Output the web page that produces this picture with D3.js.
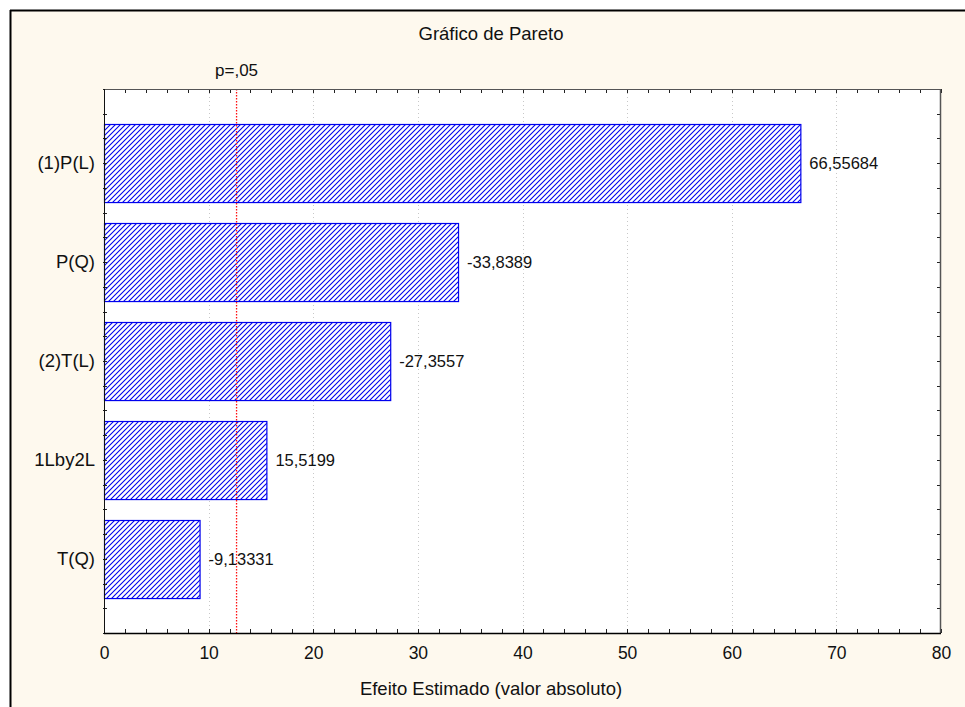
<!DOCTYPE html>
<html>
<head>
<meta charset="utf-8">
<script src="https://cdn.jsdelivr.net/npm/d3@7/dist/d3.min.js"></script>
<style>
  html, body { margin: 0; padding: 0; background: #ffffff; }
  svg { display: block; font-family: "Liberation Sans", Arial, sans-serif; }
</style>
</head>
<body>
<svg id="chart" width="965" height="707"></svg>
<script>
// ---- data ----
const categories = ["(1)P(L)", "P(Q)", "(2)T(L)", "1Lby2L", "T(Q)"];
const effects = [66.55684, -33.8389, -27.3557, 15.5199, -9.13331];
const xTicks = [0, 10, 20, 30, 40, 50, 60, 70, 80];
const pCritical = 12.67;
const pLabel = "p=,05";
const title = "Gráfico de Pareto";
const xTitle = "Efeito Estimado (valor absoluto)";

// ---- layout ----
const W = 965, H = 707;
const plot = { left: 104, right: 941, top: 89, bottom: 633 };
const svg = d3.select("#chart");

// page background, frame
svg.append("rect").attr("x", 0).attr("y", 0).attr("width", W).attr("height", H).attr("fill", "#ffffff");
svg.append("rect").attr("x", 11).attr("y", 11).attr("width", W - 11).attr("height", H - 11).attr("fill", "#fef9ee");
svg.append("line").attr("x1", 10).attr("x2", W).attr("y1", 10.5).attr("y2", 10.5)
  .attr("stroke", "#000").attr("stroke-width", 2);
svg.append("line").attr("x1", 10.5).attr("x2", 10.5).attr("y1", 10).attr("y2", H)
  .attr("stroke", "#000").attr("stroke-width", 2);

// hatch pattern
const defs = svg.append("defs");
const pat = defs.append("pattern").attr("id", "hatch")
  .attr("patternUnits", "userSpaceOnUse").attr("width", 5).attr("height", 5);
pat.append("rect").attr("width", 5).attr("height", 5).attr("fill", "#ffffff");
pat.append("path").attr("d", "M-1,1 L1,-1 M0,5 L5,0 M4,6 L6,4")
  .attr("stroke", "#0000ee").attr("stroke-width", 1.1);

// scales
const x = d3.scaleLinear().domain([0, 80]).range([plot.left, plot.right]);
const y = d3.scaleBand().domain(categories).range([plot.top, plot.bottom])
  .paddingInner(0.211).paddingOuter(0.355);
const yMinor = d3.scaleLinear().domain([0, 5.5]).range([plot.top, plot.bottom]);

// plot background
svg.append("rect").attr("x", plot.left).attr("y", plot.top)
  .attr("width", plot.right - plot.left).attr("height", plot.bottom - plot.top)
  .attr("fill", "#ffffff");

// gridlines
svg.append("g").selectAll("line").data(xTicks.filter(t => t > 0 && t < 80)).join("line")
  .attr("x1", d => Math.round(x(d)) + 0.5).attr("x2", d => Math.round(x(d)) + 0.5)
  .attr("y1", plot.top).attr("y2", plot.bottom)
  .attr("stroke", "#c8c8c8").attr("stroke-width", 1).attr("stroke-dasharray", "1,3");

// bars
const data = categories.map((c, i) => ({ cat: c, v: effects[i] }));
svg.append("g").selectAll("rect").data(data).join("rect")
  .attr("x", x(0) + 0.5)
  .attr("y", d => Math.round(y(d.cat)) + 0.5)
  .attr("width", d => x(Math.abs(d.v)) - x(0))
  .attr("height", y.bandwidth())
  .attr("fill", "url(#hatch)")
  .attr("stroke", "#0000ee").attr("stroke-width", 1.2);

// critical line
svg.append("line")
  .attr("x1", x(pCritical)).attr("x2", x(pCritical))
  .attr("y1", plot.top).attr("y2", plot.bottom)
  .attr("stroke", "#ff1010").attr("stroke-width", 1.3).attr("stroke-dasharray", "1.5,1.5");
svg.append("text").attr("x", x(pCritical)).attr("y", 76)
  .attr("text-anchor", "middle").attr("font-size", 17).attr("fill", "#111").text(pLabel);

// value labels
svg.append("g").selectAll("text").data(data).join("text")
  .attr("x", d => x(Math.abs(d.v)) + 9)
  .attr("y", d => y(d.cat) + y.bandwidth() / 2)
  .attr("dy", "0.35em").attr("font-size", 16.5).attr("fill", "#111")
  .text(d => String(d.v).replace(".", ","));

// axes
const xBottom = d3.axisBottom(x).tickValues(xTicks).tickSize(0).tickPadding(14).tickFormat(d3.format("d"));
const gx = svg.append("g").attr("transform", `translate(0,${plot.bottom})`).call(xBottom);
gx.select(".domain").remove();
gx.selectAll("text").attr("font-size", 17.5).attr("fill", "#111").attr("font-family", "Liberation Sans, Arial, sans-serif");

const yLeft = d3.axisLeft(y).tickSize(0).tickPadding(9);
const gy = svg.append("g").attr("transform", `translate(${plot.left},0)`).call(yLeft);
gy.select(".domain").remove();
gy.selectAll("text").attr("font-size", 18.5).attr("fill", "#111").attr("font-family", "Liberation Sans, Arial, sans-serif");

// minor ticks (inward)
const xMinor = d3.range(0, 81, 2);
const tk = svg.append("g").attr("stroke", "#222").attr("stroke-width", 1);
tk.selectAll(".tb").data(xMinor).join("line")
  .attr("x1", d => Math.round(x(d)) + 0.5).attr("x2", d => Math.round(x(d)) + 0.5)
  .attr("y1", plot.bottom).attr("y2", plot.bottom - 4);
tk.selectAll(".tt").data(xMinor).join("line")
  .attr("x1", d => Math.round(x(d)) + 0.5).attr("x2", d => Math.round(x(d)) + 0.5)
  .attr("y1", plot.top).attr("y2", plot.top + 4);
const yMinorTicks = d3.range(0, 5.5001, 0.25);
tk.selectAll(".tl").data(yMinorTicks).join("line")
  .attr("x1", plot.left - 1).attr("x2", plot.left + 3)
  .attr("y1", d => Math.round(yMinor(d)) + 0.5).attr("y2", d => Math.round(yMinor(d)) + 0.5);
tk.selectAll(".tr").data(yMinorTicks).join("line")
  .attr("x1", plot.right).attr("x2", plot.right - 4)
  .attr("y1", d => Math.round(yMinor(d)) + 0.5).attr("y2", d => Math.round(yMinor(d)) + 0.5);

// plot frame
svg.append("line").attr("x1", plot.left).attr("x2", plot.right).attr("y1", plot.top + 0.5).attr("y2", plot.top + 0.5)
  .attr("stroke", "#555").attr("stroke-width", 1);
svg.append("line").attr("x1", plot.right - 0.5).attr("x2", plot.right - 0.5).attr("y1", plot.top).attr("y2", plot.bottom)
  .attr("stroke", "#555").attr("stroke-width", 1.5);
svg.append("line").attr("x1", plot.left + 0.5).attr("x2", plot.left + 0.5).attr("y1", plot.top).attr("y2", plot.bottom)
  .attr("stroke", "#111").attr("stroke-width", 1);
svg.append("line").attr("x1", plot.left).attr("x2", plot.right).attr("y1", plot.bottom + 0.5).attr("y2", plot.bottom + 0.5)
  .attr("stroke", "#000").attr("stroke-width", 1.5);

// titles
svg.append("text").attr("x", 491).attr("y", 40).attr("text-anchor", "middle")
  .attr("font-size", 18.5).attr("fill", "#111").text(title);
svg.append("text").attr("x", 491).attr("y", 695).attr("text-anchor", "middle")
  .attr("font-size", 18.5).attr("fill", "#111").text(xTitle);
</script>
</body>
</html>
